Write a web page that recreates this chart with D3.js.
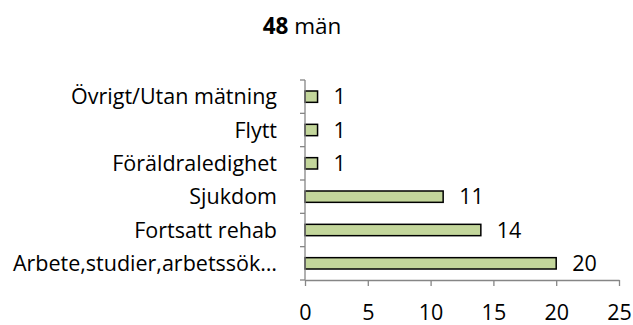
<!DOCTYPE html>
<html>
<head>
<meta charset="utf-8">
<script src="https://cdn.jsdelivr.net/npm/d3@7"></script>
<style>
  html, body { margin: 0; padding: 0; background: #fff; }
  svg { display: block; }
  text { font-family: "Open Sans", sans-serif; fill: #000; }
</style>
</head>
<body>
<svg id="chart" width="633" height="325"></svg>
<script>
// Reasons for ending, men (top-to-bottom order)
const categories = [
  "Övrigt/Utan mätning",
  "Flytt",
  "Föräldraledighet",
  "Sjukdom",
  "Fortsatt rehab",
  "Arbete,studier,arbetssök…"
];
const counts = [1, 1, 1, 11, 14, 20];
const xTicks = [0, 5, 10, 15, 20, 25];
const titleCount = "48";
const titleText = " män";

const svg = d3.select("#chart");
const plotLeft = 305, plotRight = 619, plotTop = 80, plotBottom = 280;
const fontSize = 21.5;
const titleSize = 22.5;
const axisColor = "#868686";

const x = d3.scaleLinear().domain([0, 25]).range([plotLeft, plotRight]);
const y = d3.scaleBand().domain(categories).range([plotTop, plotBottom])
  .paddingInner(0.66).paddingOuter(0.33);

// Title
const title = svg.append("text")
  .attr("x", 302).attr("y", 25.5)
  .attr("dy", "0.36em")
  .attr("text-anchor", "middle")
  .style("font-size", titleSize + "px");
title.append("tspan").style("font-weight", "bold").text(titleCount);
title.append("tspan").text(titleText);

// Bars
svg.append("g").selectAll("rect")
  .data(categories)
  .join("rect")
  .attr("x", x(0))
  .attr("y", d => y(d))
  .attr("width", (d, i) => x(counts[i]) - x(0))
  .attr("height", y.bandwidth())
  .attr("fill", "#c3d69b")
  .attr("stroke", "#000")
  .attr("stroke-width", 1.5);

// Value labels
svg.append("g").selectAll("text")
  .data(categories)
  .join("text")
  .attr("x", (d, i) => x(counts[i]) + 16)
  .attr("y", d => y(d) + y.bandwidth() / 2)
  .attr("dy", "0.36em")
  .style("font-size", fontSize + "px")
  .text((d, i) => counts[i]);

// Y axis: line with ticks at the band boundaries
const yAxisG = svg.append("g");
yAxisG.append("line")
  .attr("x1", x(0)).attr("x2", x(0))
  .attr("y1", plotTop).attr("y2", plotBottom)
  .attr("stroke", axisColor).attr("stroke-width", 1.3);
yAxisG.selectAll("line.tick")
  .data(d3.range(categories.length + 1).map(i => plotTop + i * y.step()))
  .join("line")
  .attr("class", "tick")
  .attr("x1", x(0) - 5).attr("x2", x(0))
  .attr("y1", d => d).attr("y2", d => d)
  .attr("stroke", axisColor).attr("stroke-width", 1.3);

// Category labels
svg.append("g").selectAll("text")
  .data(categories)
  .join("text")
  .attr("x", 277)
  .attr("y", d => y(d) + y.bandwidth() / 2)
  .attr("dy", "0.36em")
  .attr("text-anchor", "end")
  .style("font-size", fontSize + "px")
  .text(d => d);

// X axis
const xAxis = d3.axisBottom(x).tickValues(xTicks).tickSize(6).tickSizeOuter(0).tickPadding(19);
const xg = svg.append("g").attr("transform", `translate(0,${plotBottom})`).call(xAxis);
xg.select(".domain").attr("stroke", axisColor).attr("stroke-width", 1.3);
xg.selectAll(".tick line").attr("stroke", axisColor).attr("stroke-width", 1.3);
xg.selectAll(".tick text")
  .attr("dy", "0.72em")
  .style("font-size", fontSize + "px")
  .style("font-family", "'Open Sans', sans-serif")
  .attr("fill", "#000");
</script>
</body>
</html>
